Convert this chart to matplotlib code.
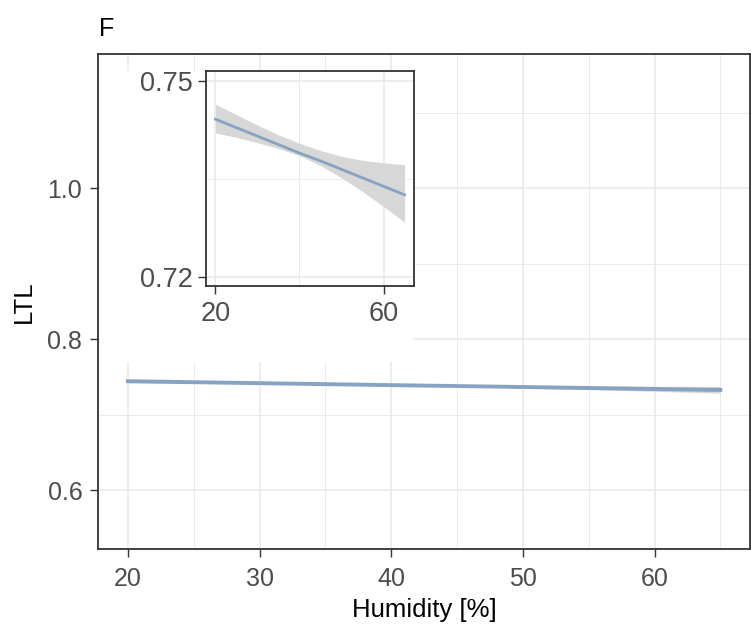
import matplotlib
matplotlib.use("Agg")
import matplotlib.pyplot as plt
from matplotlib.patches import Rectangle
from matplotlib.ticker import MultipleLocator, FixedLocator

plt.rcParams['font.family'] = ['Liberation Sans', 'DejaVu Sans']

# linear fit of LTL on humidity with its confidence band
humidity = [20, 25, 30, 35, 40, 45, 50, 55, 60, 65]
ltl_fit = [0.7442, 0.7429, 0.7416, 0.7403, 0.7390, 0.7378, 0.7365, 0.7352, 0.7339, 0.7326]
ltl_lower = [0.7421, 0.7414, 0.7406, 0.7397, 0.7386, 0.7371, 0.7352, 0.7331, 0.7308, 0.7284]
ltl_upper = [0.7465, 0.7449, 0.7433, 0.7418, 0.7405, 0.7394, 0.7385, 0.7379, 0.7375, 0.7372]

main_xticks = [20, 30, 40, 50, 60]
main_yticks = [0.6, 0.8, 1.0]
inset_xticks = [20, 60]
inset_yticks = [0.72, 0.75]

line_col = '#86A3C4'
band_col = '#D7D7D7'
border_col = '#333333'
tick_col = '#4D4D4D'
grid_col = '#E8E8E8'

W, H = 751, 624
fig = plt.figure(figsize=(W / 100, H / 100), dpi=100)


def px(l, r, t, b):
    return [l / W, 1 - b / H, (r - l) / W, (b - t) / H]


def style(ax, fs, pad):
    ax.set_axisbelow(True)
    for s in ax.spines.values():
        s.set_color(border_col)
        s.set_linewidth(1.3)
    ax.grid(True, which='major', color=grid_col, lw=1.1)
    ax.grid(True, which='minor', color=grid_col, lw=0.6)
    ax.tick_params(which='major', length=5.5, width=1.0, color=border_col,
                   labelcolor=tick_col, labelsize=fs, pad=pad)
    ax.tick_params(which='minor', length=0)


ax = fig.add_axes(px(98.3, 750, 53.8, 549.3))
ax.fill_between(humidity, ltl_lower, ltl_upper, color=band_col, lw=0, zorder=3)
ax.plot(humidity, ltl_fit, color=line_col, lw=2.8, zorder=4)
ax.set_xlim(17.75, 67.25)
ax.set_ylim(0.5215, 1.178)
ax.xaxis.set_major_locator(FixedLocator(main_xticks))
ax.xaxis.set_minor_locator(MultipleLocator(5))
ax.yaxis.set_major_locator(FixedLocator(main_yticks))
ax.yaxis.set_minor_locator(MultipleLocator(0.1))
ax.set_xticklabels([str(v) for v in main_xticks])
ax.set_yticklabels([f"{v:.1f}" for v in main_yticks])
style(ax, 18, 6)
ax.tick_params(axis='x', pad=7)
ax.set_xlabel("Humidity [%]", fontsize=18.5, labelpad=5)
ax.set_ylabel("LTL", fontsize=18.5, labelpad=8)

# white box behind the inset hides the main grid
box = px(99.5, 413, 71, 362)
ax.add_patch(Rectangle((box[0], box[1]), box[2], box[3], transform=fig.transFigure,
                       facecolor='white', edgecolor='none', zorder=2))

ins = fig.add_axes(px(206, 414, 71, 286))
ins.fill_between(humidity, ltl_lower, ltl_upper, color=band_col, lw=0, zorder=3)
ins.plot(humidity, ltl_fit, color=line_col, lw=2.0, zorder=4)
ins.set_xlim(17.75, 67.25)
ins.set_ylim(0.7186, 0.7516)
ins.xaxis.set_major_locator(FixedLocator(inset_xticks))
ins.xaxis.set_minor_locator(FixedLocator([40]))
ins.yaxis.set_major_locator(FixedLocator(inset_yticks))
ins.yaxis.set_minor_locator(FixedLocator([0.735]))
ins.set_xticklabels([str(v) for v in inset_xticks])
ins.set_yticklabels([f"{v:.2f}" for v in inset_yticks])
style(ins, 19.5, 4)
ins.tick_params(axis='x', pad=5)

fig.text(99 / W, 1 - 36 / H, "F", fontsize=18, ha='left', va='baseline')

fig.savefig("out.png", dpi=100)
